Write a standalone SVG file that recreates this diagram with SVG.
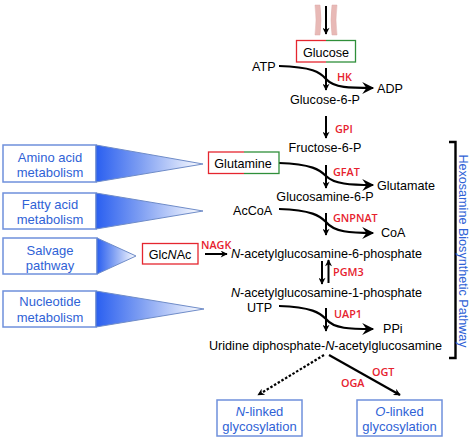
<svg xmlns="http://www.w3.org/2000/svg" width="474" height="440" viewBox="0 0 474 440">
<style>
text{font-family:"Liberation Sans",Arial,sans-serif;font-size:12.6px;fill:#000}
.c{text-anchor:middle}
.e{font-family:"Open Sans","Noto Sans",sans-serif;font-size:10.8px;font-weight:600;fill:#e6212e}
.b{fill:#2f62d6;font-size:13px;text-anchor:middle}
.sb{fill:#fff;stroke:#6f90dc;stroke-width:1.5}
.tri{fill:url(#g);stroke:#6f8cc8;stroke-width:1}
.line{fill:none;stroke:#000;stroke-width:2.2}
.thin{fill:none;stroke:#000;stroke-width:2}
</style>
<defs>
<linearGradient id="g" x1="0" y1="0" x2="1" y2="0"><stop offset="0" stop-color="#2a5ff0"/><stop offset="0.4" stop-color="#7b9cf2"/><stop offset="1" stop-color="#fff"/></linearGradient>
<linearGradient id="rg" x1="0" y1="0" x2="1" y2="0"><stop offset="0.5" stop-color="#e5262f"/><stop offset="0.5" stop-color="#2f8f3a"/></linearGradient>
<marker id="a" viewBox="0 0 10 10" refX="9" refY="5" markerWidth="8" markerHeight="7" markerUnits="userSpaceOnUse" orient="auto"><path d="M0 0L10 5L0 10L3 5Z"/></marker>
<marker id="A" viewBox="0 0 10 10" refX="9" refY="5" markerWidth="14" markerHeight="12" markerUnits="userSpaceOnUse" orient="auto"><path d="M0 0L10 5L0 10L3.5 5Z"/></marker>
</defs>
<g id="membrane" fill="#e8b9b6" stroke="#dcaaa8" stroke-width="0.5">
<path d="M315 5h5q2 15 0 30h-5q2-15 0-30Z"/>
<path d="M332 5h5q-2 15 0 30h-5q-2-15 0-30Z"/>
</g>
<g id="connectors">
<path class="thin" d="M326 6V34" marker-end="url(#a)"/>
<path class="thin" d="M326 68V90" marker-end="url(#a)"/>
<path class="line" d="M279 66C312 67 320 72 326 79C334 88 350 88 373 88" marker-end="url(#A)"/>
<path class="thin" d="M326 116V138" marker-end="url(#a)"/>
<path class="thin" d="M326 165V188" marker-end="url(#a)"/>
<path class="line" d="M279 163C312 164 320 170 326 176C334 184 350 185 373 185" marker-end="url(#A)"/>
<path class="thin" d="M326 213V235" marker-end="url(#a)"/>
<path class="line" d="M279 209C312 210 320 216 326 222C334 232 350 233 373 233" marker-end="url(#A)"/>
<path class="thin" d="M205 254H227" marker-end="url(#a)"/>
<path class="thin" d="M322 261V284" marker-end="url(#a)"/>
<path class="thin" d="M328.500 283V260" marker-end="url(#a)"/>
<path class="thin" d="M326 308V331" marker-end="url(#a)"/>
<path class="line" d="M279 306C312 307 320 313 326 319C334 329 350 329 373 329" marker-end="url(#A)"/>
<path d="M324 355L258 395" fill="none" stroke="#000" stroke-width="2.200" stroke-dasharray="2.500 1.800" marker-end="url(#a)"/>
<path d="M329 355L400 395" fill="none" stroke="#000" stroke-width="2.200" marker-end="url(#a)"/>
<path id="bracket" d="M449 142H455.500V358H449" fill="none" stroke="#000" stroke-width="2.400"/>
</g>
<g id="glucose"><rect x="296.500" y="40.500" width="59" height="21.500" fill="#fff" stroke="url(#rg)" stroke-width="1.300"/><text class="c" x="326" y="57">Glucose</text></g>
<g id="atp"><text x="252" y="71">ATP</text></g>
<g id="adp"><text x="377" y="93">ADP</text></g>
<g id="hk"><text class="e" x="337" y="81">HK</text></g>
<g id="glucose6p"><text class="c" x="325" y="104">Glucose-6-P</text></g>
<g id="gpi"><text class="e" x="335" y="133">GPI</text></g>
<g id="fructose6p"><text class="c" x="325" y="152">Fructose-6-P</text></g>
<g id="amino"><rect class="sb" x="3" y="145" width="93" height="37"/><path class="tri" d="M96 145L203 164L96 182Z"/><text class="b" x="50" y="162">Amino acid</text><text class="b" x="50" y="177">metabolism</text></g>
<g id="fatty"><rect class="sb" x="3" y="193" width="93" height="36"/><path class="tri" d="M96 193L203 211L96 229Z"/><text class="b" x="50" y="209">Fatty acid</text><text class="b" x="50" y="224">metabolism</text></g>
<g id="salvage"><rect class="sb" x="3" y="238" width="94" height="36"/><path class="tri" d="M97 238L136 256L97 274Z"/><text class="b" x="50" y="255">Salvage</text><text class="b" x="50" y="270">pathway</text></g>
<g id="nucleotide"><rect class="sb" x="3" y="291" width="93" height="36"/><path class="tri" d="M96 291L204 309L96 327Z"/><text class="b" x="50" y="306">Nucleotide</text><text class="b" x="50" y="322">metabolism</text></g>
<g id="glutamine"><rect x="208.500" y="152" width="70.500" height="21.500" fill="#fff" stroke="url(#rg)" stroke-width="1.300"/><text class="c" x="243" y="168">Glutamine</text></g>
<g id="gfat"><text class="e" x="333" y="176">GFAT</text></g>
<g id="glutamate"><text x="377" y="190">Glutamate</text></g>
<g id="glucosamine6p"><text class="c" x="325" y="201">Glucosamine-6-P</text></g>
<g id="accoa"><text x="233" y="215">AcCoA</text></g>
<g id="gnpnat"><text class="e" x="333" y="222">GNPNAT</text></g>
<g id="coa"><text x="381" y="237">CoA</text></g>
<g id="glcnac"><rect x="142.500" y="243.500" width="55.500" height="20.500" fill="#fff" stroke="#e5262f" stroke-width="1.300"/><text class="c" x="170" y="259">Glc<tspan font-style="italic">N</tspan>Ac</text></g>
<g id="nagk"><text class="e" x="201" y="249">NAGK</text></g>
<g id="nag6p"><text x="231" y="258"><tspan font-style="italic">N</tspan>-acetylglucosamine-6-phosphate</text></g>
<g id="pgm3"><text class="e" x="333" y="276">PGM3</text></g>
<g id="nag1p"><text x="231" y="297"><tspan font-style="italic">N</tspan>-acetylglucosamine-1-phosphate</text></g>
<g id="utp"><text x="247" y="312">UTP</text></g>
<g id="uap1"><text class="e" x="334" y="318">UAP1</text></g>
<g id="ppi"><text x="383" y="333">PPi</text></g>
<g id="udpglcnac"><text x="209" y="350">Uridine diphosphate-<tspan font-style="italic">N</tspan>-acetylglucosamine</text></g>
<g id="ogt"><text class="e" x="372" y="376">OGT</text></g>
<g id="oga"><text class="e" x="341" y="387">OGA</text></g>
<g id="nlinked"><rect class="sb" x="217" y="400" width="85" height="36"/><text class="b" x="259.500" y="416"><tspan font-style="italic">N</tspan>-linked</text><text class="b" x="259.500" y="431">glycosylation</text></g>
<g id="olinked"><rect class="sb" x="357" y="400" width="85" height="36"/><text class="b" x="399.500" y="416"><tspan font-style="italic">O</tspan>-linked</text><text class="b" x="399.500" y="431">glycosylation</text></g>
<g id="pathway"><text class="b" style="font-size:12.6px" transform="translate(459 251) rotate(90)">Hexosamine Biosynthetic Pathway</text></g>
</svg>
